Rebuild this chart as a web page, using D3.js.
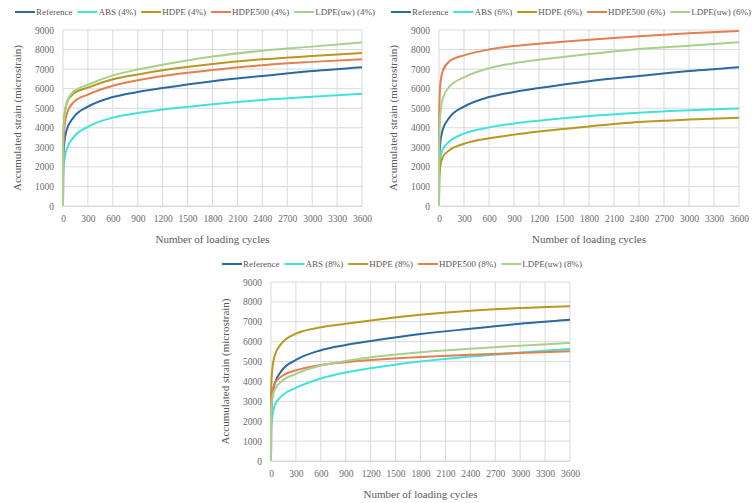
<!DOCTYPE html>
<html>
<head>
<meta charset="utf-8">
<script src="https://cdn.jsdelivr.net/npm/d3@7"></script>
<style>
  body { margin: 0; background: #fff; }
  svg { display: block; font-family: 'Liberation Serif', serif; }
  .tick text { fill: #6b6b6b; font-size: 9.5px; }
  .grid line { stroke: #d9d9d9; stroke-width: 1; }
  .title { fill: #595959; font-size: 11px; }
  .legend text { fill: #595959; font-size: 9px; }
</style>
</head>
<body>
<div id="chart"></div>
<script>
const cycles = [0, 2, 15, 45, 125, 300, 600, 900, 1200, 1800, 2400, 3000, 3600]
const xTicks = [0, 300, 600, 900, 1200, 1500, 1800, 2100, 2400, 2700, 3000, 3300, 3600]
const yTicks = [0, 1000, 2000, 3000, 4000, 5000, 6000, 7000, 8000, 9000]

const reference = [0, 2300, 3200, 3900, 4520, 5080, 5570, 5830, 6030, 6380, 6650, 6900, 7100]

const abs4 = [0, 1500, 2300, 2900, 3500, 4050, 4520, 4750, 4930, 5200, 5420, 5590, 5740]
const hdpe4 = [0, 3300, 4500, 5250, 5750, 6050, 6480, 6730, 6940, 7260, 7500, 7670, 7820]
const hdpe500_4 = [0, 2700, 3900, 4700, 5300, 5700, 6150, 6430, 6650, 6950, 7200, 7370, 7510]
const ldpe4 = [0, 3200, 4400, 5300, 5850, 6200, 6680, 6980, 7220, 7640, 7940, 8150, 8370]

const abs6 = [0, 1700, 2400, 2900, 3300, 3700, 4020, 4220, 4360, 4600, 4770, 4890, 4990]
const hdpe6 = [0, 1300, 2000, 2500, 2850, 3180, 3460, 3650, 3810, 4070, 4290, 4420, 4510]
const hdpe500_6 = [0, 4500, 6200, 6900, 7400, 7700, 8000, 8180, 8300, 8500, 8680, 8830, 8950]
const ldpe6 = [0, 3000, 4600, 5500, 6100, 6580, 7050, 7300, 7480, 7770, 8030, 8200, 8370]

const abs8 = [0, 1500, 2200, 2800, 3250, 3680, 4150, 4450, 4660, 5000, 5250, 5450, 5630]
const hdpe8 = [0, 3600, 4600, 5300, 5900, 6400, 6720, 6900, 7070, 7350, 7550, 7690, 7780]
const hdpe500_8 = [0, 2800, 3400, 3900, 4250, 4560, 4830, 4970, 5080, 5230, 5340, 5430, 5520]
const ldpe8 = [0, 2500, 3100, 3600, 4000, 4380, 4800, 5030, 5220, 5470, 5650, 5800, 5930]

const colors = {
  ref: '#2a6aa3',
  abs: '#3fe3dc',
  hdpe: '#b8981f',
  hdpe500: '#e47f4e',
  ldpe: '#a8d08d',
}

const width = 752
const height = 503

const svg = d3
  .select('#chart')
  .append('svg')
  .attr('width', width)
  .attr('height', height)

function drawPanel(panel) {
  const { left, top, right, bottom, series, legendX, legendY } = panel

  const xScale = d3.scaleLinear().domain([0, 3600]).range([left, right])
  const yScale = d3.scaleLinear().domain([0, 9000]).range([bottom, top])

  const g = svg.append('g')

  // gridlines
  const grid = g.append('g').attr('class', 'grid')
  grid
    .selectAll('.gx')
    .data(xTicks)
    .join('line')
    .attr('class', 'gx')
    .attr('x1', d => xScale(d))
    .attr('x2', d => xScale(d))
    .attr('y1', top)
    .attr('y2', bottom)
  grid
    .selectAll('.gy')
    .data(yTicks)
    .join('line')
    .attr('class', 'gy')
    .attr('x1', left)
    .attr('x2', right)
    .attr('y1', d => yScale(d))
    .attr('y2', d => yScale(d))

  const xAxis = d3
    .axisBottom(xScale)
    .tickValues(xTicks)
    .tickFormat(d3.format('d'))
    .tickSize(0)
    .tickPadding(9)
  g.append('g')
    .attr('transform', `translate(0, ${bottom})`)
    .call(xAxis)
    .attr('font-family', null)
    .attr('font-size', null)
    .call(a => a.select('.domain').attr('stroke', '#d9d9d9'))

  const yAxis = d3
    .axisLeft(yScale)
    .tickValues(yTicks)
    .tickFormat(d3.format('d'))
    .tickSize(0)
    .tickPadding(9)
  g.append('g')
    .attr('transform', `translate(${left}, 0)`)
    .call(yAxis)
    .attr('font-family', null)
    .attr('font-size', null)
    .call(a => a.select('.domain').remove())

  // titles
  g.append('text')
    .attr('class', 'title')
    .attr('x', (left + right) / 2)
    .attr('y', bottom + 37)
    .attr('text-anchor', 'middle')
    .text('Number of loading cycles')

  g.append('text')
    .attr('class', 'title')
    .attr('transform', `translate(${left - 42}, ${(top + bottom) / 2}) rotate(-90)`)
    .attr('text-anchor', 'middle')
    .text('Accumulated strain (microstrain)')

  const line = d3
    .line()
    .x((d, i) => xScale(cycles[i]))
    .y(d => yScale(d))
    .curve(d3.curveMonotoneX)

  g.selectAll('.series')
    .data(series)
    .join('path')
    .attr('class', 'series')
    .attr('fill', 'none')
    .attr('stroke', d => d.color)
    .attr('stroke-width', 2)
    .attr('d', d => line(d.values))

  // legend
  const legend = g.append('g').attr('class', 'legend')
  let cx = legendX
  series.forEach(s => {
    legend
      .append('line')
      .attr('x1', cx)
      .attr('x2', cx + 20)
      .attr('y1', legendY)
      .attr('y2', legendY)
      .attr('stroke', s.color)
      .attr('stroke-width', 2)
    const t = legend
      .append('text')
      .attr('x', cx + 21)
      .attr('y', legendY + 3)
      .text(s.name)
    cx += 21 + t.node().getComputedTextLength() + 5
  })
}

function makeSeries(pct, abs, hdpe, hdpe500, ldpe) {
  return [
    { name: 'Reference', color: colors.ref, values: reference },
    { name: `ABS (${pct})`, color: colors.abs, values: abs },
    { name: `HDPE (${pct})`, color: colors.hdpe, values: hdpe },
    { name: `HDPE500 (${pct})`, color: colors.hdpe500, values: hdpe500 },
    { name: `LDPE(uw) (${pct})`, color: colors.ldpe, values: ldpe },
  ]
}

drawPanel({
  left: 63, top: 30, right: 362, bottom: 206,
  legendX: 15, legendY: 12,
  series: makeSeries('4%', abs4, hdpe4, hdpe500_4, ldpe4),
})

drawPanel({
  left: 439, top: 30, right: 739, bottom: 206,
  legendX: 391, legendY: 12,
  series: makeSeries('6%', abs6, hdpe6, hdpe500_6, ldpe6),
})

drawPanel({
  left: 271, top: 282, right: 570, bottom: 461,
  legendX: 222, legendY: 264,
  series: makeSeries('8%', abs8, hdpe8, hdpe500_8, ldpe8),
})
</script>
</body>
</html>
